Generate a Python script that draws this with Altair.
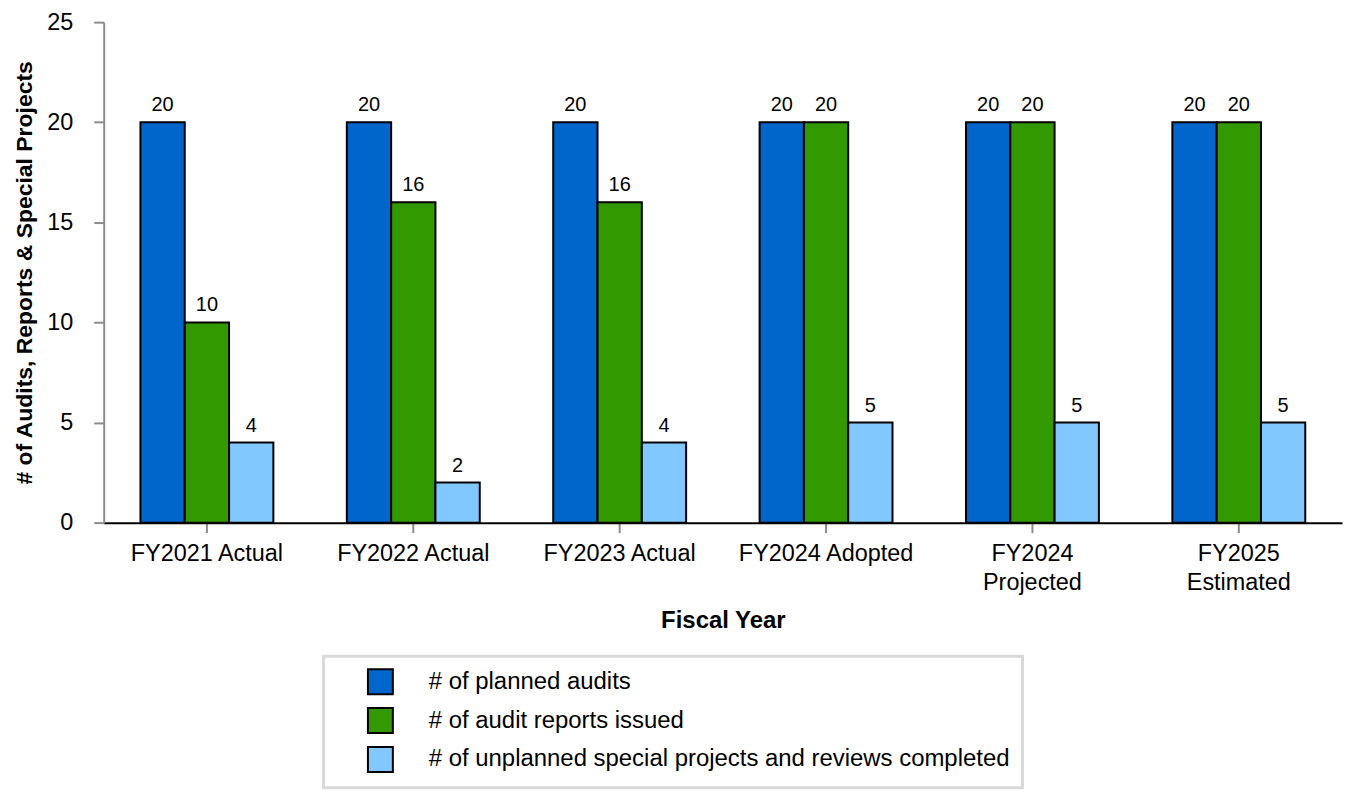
import altair as alt
import pandas as pd

categories = ["FY2021 Actual", "FY2022 Actual", "FY2023 Actual",
              "FY2024 Adopted", "FY2024 Projected", "FY2025 Estimated"]
series = ["# of planned audits",
          "# of audit reports issued",
          "# of unplanned special projects and reviews completed"]
planned = [20, 20, 20, 20, 20, 20]
issued = [10, 16, 16, 20, 20, 20]
unplanned = [4, 2, 4, 5, 5, 5]
colors = ["#0066CC", "#339900", "#80C8FF"]
y_ticks = [0, 5, 10, 15, 20, 25]

rows = []
for i, c in enumerate(categories):
    for s, vals in zip(series, [planned, issued, unplanned]):
        rows.append({"category": c, "series": s, "value": vals[i]})
df = pd.DataFrame(rows)

FONT = "Liberation Sans"
GRAY = "#8c8c8c"

x_enc = alt.X(
    "category:N", sort=categories,
    scale=alt.Scale(paddingInner=0.356, paddingOuter=0.178),
    axis=alt.Axis(
        title="Fiscal Year", labelAngle=0,
        labelExpr="(datum.value == 'FY2024 Projected' || datum.value == 'FY2025 Estimated') ? split(datum.value, ' ') : datum.value",
        labelFontSize=23.5, labelLineHeight=29, labelColor="black", labelPadding=9,
        domainColor="black", domainWidth=2,
        tickColor=GRAY, tickWidth=2, tickSize=10,
        titleFontSize=24, titleFontWeight="bold", titleColor="black", titlePadding=15,
        labelFont=FONT, titleFont=FONT,
    ),
)
xoff_enc = alt.XOffset("series:N", sort=series,
                       scale=alt.Scale(domain=series, paddingInner=0, paddingOuter=0))
y_enc = alt.Y(
    "value:Q",
    scale=alt.Scale(domain=[0, 25], nice=False),
    axis=alt.Axis(
        title="# of Audits, Reports & Special Projects", values=y_ticks, grid=False,
        domainColor=GRAY, domainWidth=2, tickColor=GRAY, tickWidth=2, tickSize=10,
        labelPadding=21, labelFontSize=23.5, labelColor="black",
        titleFontSize=23, titleFontWeight="bold", titleColor="black", titlePadding=10,
        labelFont=FONT, titleFont=FONT,
    ),
)

bars = alt.Chart().mark_bar(stroke="black", strokeWidth=2).encode(
    x=x_enc, xOffset=xoff_enc, y=y_enc,
    color=alt.Color(
        "series:N", sort=series,
        scale=alt.Scale(domain=series, range=colors),
        legend=alt.Legend(
            title=None, orient="none", legendX=220.5, legendY=636,
            symbolType="square", symbolSize=625,
            symbolStrokeColor="black", symbolStrokeWidth=2,
            symbolOffset=31.5, labelOffset=35, rowPadding=6,
            labelFontSize=24, labelFont=FONT, labelColor="black", labelLimit=900,
            padding=12, strokeColor="#d9d9d9",
        ),
    ),
)

labels = alt.Chart().mark_text(
    baseline="alphabetic", dy=-11, fontSize=20, font=FONT, color="black"
).encode(x=x_enc, xOffset=xoff_enc, y=y_enc, text="value:Q")

chart = alt.layer(bars, labels, data=df).properties(
    width=1242, height=502,
    autosize=alt.AutoSizeParams(type="none"),
    padding={"left": 96, "top": 13, "right": 4, "bottom": 275},
).configure_view(stroke=None).configure_legend(strokeWidth=3)

chart.save("out.html", embed_options={"renderer": "svg", "actions": False})
